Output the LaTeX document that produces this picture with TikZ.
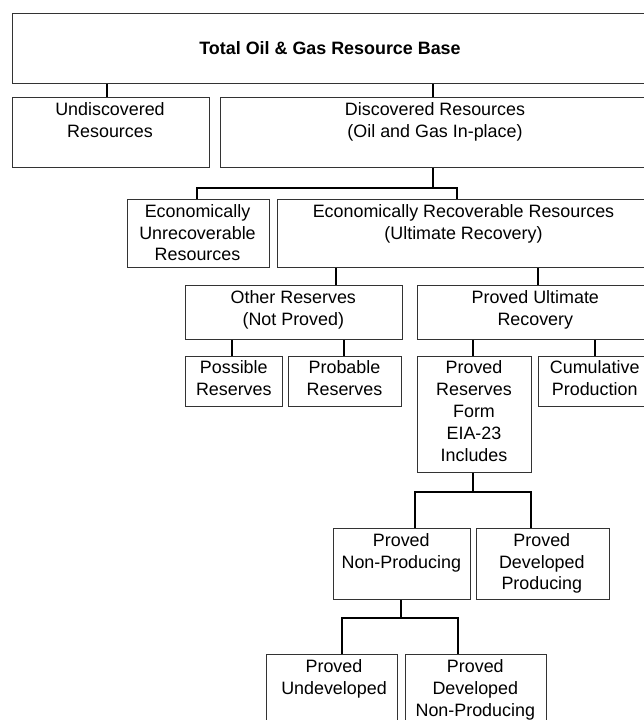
\documentclass[tikz,border=0pt]{standalone}
\usepackage{fontspec}
\setmainfont{Liberation Sans}
\tikzset{
  box/.style={draw=black!80,line width=1pt,anchor=north west,inner sep=0pt},
  lbl/.style={anchor=north,yshift=13pt,align=center,inner sep=0pt,
    font=\fontsize{17.9pt}{21.9pt}\selectfont,execute at begin node=\strut},
  link/.style={line width=2pt,black}
}
\begin{document}
\begin{tikzpicture}[x=1pt,y=-1pt]
  \clip (0,0) rectangle (644,720);
  \node[box,minimum width=648.3pt,minimum height=70pt] (base) at (11.7,13.3) {};
  \node[box,minimum width=197.3pt,minimum height=70pt] (undisc) at (11.7,96.7) {};
  \node[box,minimum width=440pt,minimum height=70pt] (disc) at (220,96.7) {};
  \node[box,minimum width=142.6pt,minimum height=68.3pt] (econunrec) at (126.7,199) {};
  \node[box,minimum width=383.3pt,minimum height=68.3pt] (econrec) at (276.7,199) {};
  \node[box,minimum width=217.3pt,minimum height=54pt] (otherres) at (185,285) {};
  \node[box,minimum width=242.7pt,minimum height=54pt] (pur) at (417.3,285) {};
  \node[box,minimum width=97.3pt,minimum height=50.3pt] (possible) at (185,355.7) {};
  \node[box,minimum width=113.6pt,minimum height=50.3pt] (probable) at (287.7,355.7) {};
  \node[box,minimum width=114.3pt,minimum height=116.3pt] (provedres) at (416.7,355.7) {};
  \node[box,minimum width=121.7pt,minimum height=50.3pt] (cumul) at (538.3,355.7) {};
  \node[box,minimum width=137.3pt,minimum height=71pt] (pnp) at (332.7,528) {};
  \node[box,minimum width=133.3pt,minimum height=71pt] (pdp) at (475.7,528) {};
  \node[box,minimum width=130.7pt,minimum height=90pt] (pu) at (266,654.3) {};
  \node[box,minimum width=141pt,minimum height=90pt] (pdnp) at (405,654.3) {};

  \node[lbl,font=\fontsize{17.9pt}{21.9pt}\selectfont\bfseries] (basetxt) at (330,52.4) {Total Oil \& Gas Resource Base};
  \node[lbl] (undisctxt) at (110,115) {Undiscovered\\Resources};
  \node[lbl] (disctxt) at (435,115) {Discovered Resources\\(Oil and Gas In-place)};
  \node[lbl] (econunrectxt) at (197.5,217) {Economically\\Unrecoverable\\Resources};
  \node[lbl] (econrectxt) at (463.5,217) {Economically Recoverable Resources\\(Ultimate Recovery)};
  \node[lbl] (otherrestxt) at (293.3,303) {Other Reserves\\(Not Proved)};
  \node[lbl] (purtxt) at (535.3,303) {Proved Ultimate\\Recovery};
  \node[lbl] (possibletxt) at (233.8,373.7) {Possible\\Reserves};
  \node[lbl] (probabletxt) at (344.5,373.7) {Probable\\Reserves};
  \node[lbl] (provedrestxt) at (474,373.7) {Proved\\Reserves\\Form\\EIA-23\\Includes};
  \node[lbl] (cumultxt) at (594.7,373.7) {Cumulative\\Production};
  \node[lbl] (pnptxt) at (401.3,546) {Proved\\Non-Producing};
  \node[lbl] (pdptxt) at (541.8,546) {Proved\\Developed\\Producing};
  \node[lbl] (putxt) at (334,672.3) {Proved\\Undeveloped};
  \node[lbl] (pdnptxt) at (475.3,672.3) {Proved\\Developed\\Non-Producing};

  \draw[link] (base.south -| 106.7,0) -- (undisc.north -| 106.7,0);
  \draw[link] (base.south -| 433,0) -- (disc.north -| 433,0);
  \coordinate (j1) at (433,187.7);
  \draw[link] (disc.south -| j1) -- (j1);
  \draw[link] (econunrec.north -| 196.7,0) |- (j1) -| (econrec.north -| 457.3,0);
  \draw[link] (econrec.south -| 335.7,0) -- (otherres.north -| 335.7,0);
  \draw[link] (econrec.south -| 538.3,0) -- (pur.north -| 538.3,0);
  \draw[link] (otherres.south -| 231.7,0) -- (possible.north -| 231.7,0);
  \draw[link] (otherres.south -| 344,0) -- (probable.north -| 344,0);
  \draw[link] (pur.south -| 472.7,0) -- (provedres.north -| 472.7,0);
  \draw[link] (pur.south -| 595,0) -- (cumul.north -| 595,0);
  \coordinate (j2) at (472.7,492);
  \draw[link] (provedres.south -| j2) -- (j2);
  \draw[link] (pnp.north -| 415,0) |- (j2) -| (pdp.north -| 531,0);
  \coordinate (j3) at (400.7,618);
  \draw[link] (pnp.south -| j3) -- (j3);
  \draw[link] (pu.north -| 341.7,0) |- (j3) -| (pdnp.north -| 458,0);
\end{tikzpicture}
\end{document}
